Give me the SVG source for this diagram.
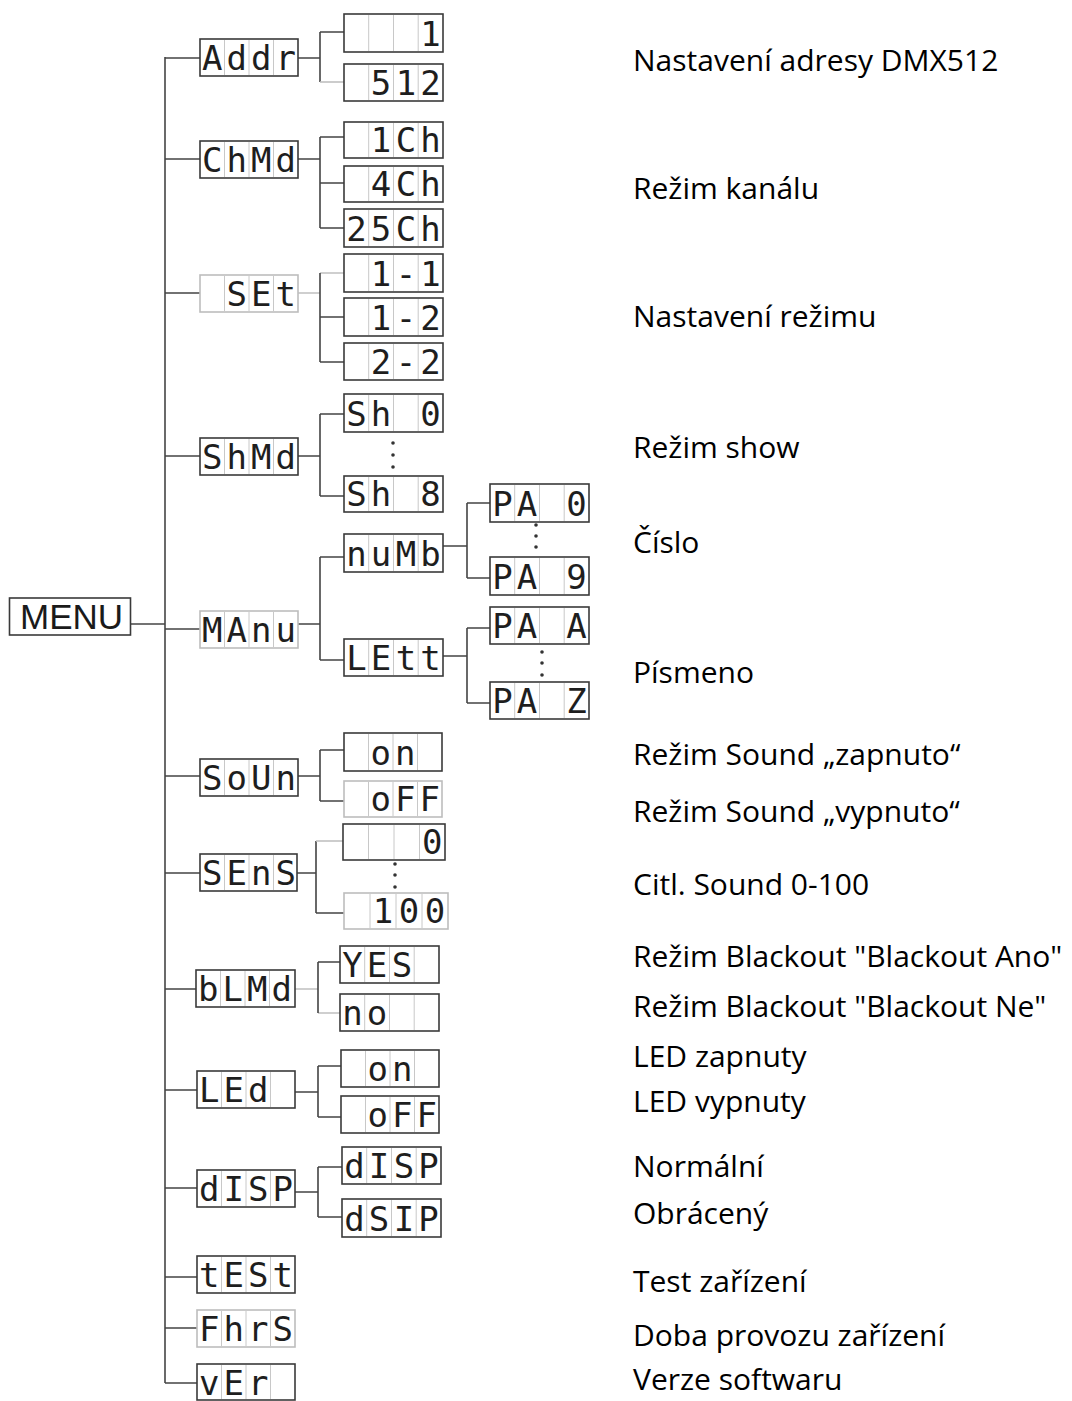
<svg xmlns="http://www.w3.org/2000/svg" width="1072" height="1401" viewBox="0 0 1072 1401">
<style>
.bg{fill:#fff}
.box{fill:#fff;stroke:#3a3a3a;stroke-width:1.6}
.box.faint{stroke:#bdbdbd}
.cell{stroke:#c8c8c8;stroke-width:1}
.seg{font-family:"DejaVu Sans Mono","Liberation Mono",monospace;font-size:34px;fill:#1e1e1e;text-anchor:middle}
.menu{font-family:"Liberation Sans",Arial,sans-serif;font-size:35px;fill:#1a1a1a}
.lbl{font-family:"Open Sans","Noto Sans",sans-serif;font-size:30px;fill:#000}
.con{fill:none;stroke:#444;stroke-width:1.6}
.con.faint{stroke:#c0c0c0}
.dot{fill:#333}
</style>
<rect class="bg" x="0" y="0" width="1072" height="1401"/>

<g id="connectors">
<path class="con" d="M165 57 V1383"/>
<path class="con" d="M131 624 H165"/>
<path class="con" d="M165 58 H200 M165 159 H200 M165 293 H200 M165 456 H200 M165 629 H200 M165 776 H200 M165 873 H200 M165 989 H196 M165 1090 H197 M165 1188 H197 M165 1277 H197 M165 1328 H197 M165 1383 H197"/>
<path class="con" d="M298 58 H320 M320 32 V82 M320 32 H344"/>
<path class="con faint" d="M320 82 H344"/>
<path class="con" d="M298 159 H320 M320 137 V228 M320 137 H344 M320 183 H344 M320 228 H344"/>
<path class="con faint" d="M298 293 H320 M320 273 H344"/>
<path class="con" d="M320 273 V362 M320 317 H344 M320 362 H344"/>
<path class="con" d="M298 456 H320 M320 414 V496 M320 414 H344 M320 496 H344"/>
<path class="con" d="M298 624 H320 M320 557 V660 M320 557 H344 M320 660 H344"/>
<path class="con" d="M443 546 H467 M467 503 V578 M467 503 H490 M467 578 H490"/>
<path class="con" d="M443 656 H467 M467 628 V703 M467 628 H490 M467 703 H490"/>
<path class="con" d="M298 776 H320 M320 750 V801 M320 750 H344 M320 801 H344"/>
<path class="con" d="M297 873 H316 M316 841 V913 M316 913 H344"/>
<path class="con faint" d="M316 841 H343"/>
<path class="con faint" d="M295 989 H318 M318 1013 H340"/>
<path class="con" d="M318 962 V1013 M318 962 H340"/>
<path class="con" d="M295 1092 H318 M318 1066 V1117 M318 1066 H341 M318 1117 H341"/>
<path class="con" d="M295 1192 H318 M318 1167 V1217 M318 1167 H342 M318 1217 H342"/>
</g>

<g id="dots">
<circle class="dot" cx="393" cy="443" r="1.8"/><circle class="dot" cx="393" cy="455" r="1.8"/><circle class="dot" cx="393" cy="467" r="1.8"/>
<circle class="dot" cx="536" cy="525" r="1.8"/><circle class="dot" cx="536" cy="536" r="1.8"/><circle class="dot" cx="536" cy="547" r="1.8"/>
<circle class="dot" cx="542" cy="652" r="1.8"/><circle class="dot" cx="542" cy="663" r="1.8"/><circle class="dot" cx="542" cy="675" r="1.8"/>
<circle class="dot" cx="395" cy="864" r="1.8"/><circle class="dot" cx="395" cy="875" r="1.8"/><circle class="dot" cx="395" cy="887" r="1.8"/>
</g>

<g id="menu"><rect class="box" x="9.5" y="598" width="121" height="37"/><text class="menu" x="20" y="629">MENU</text></g>

<!-- level 1 -->
<g id="addr"><rect class="box" x="200" y="39" width="98" height="37"/><path class="cell" d="M224.5 40V75M249 40V75M273.5 40V75"/><text class="seg" x="212.3 236.8 261.3 285.8" y="70">Addr</text></g>
<g id="chmd"><rect class="box" x="200" y="141" width="98" height="37"/><path class="cell" d="M224.5 142V177M249 142V177M273.5 142V177"/><text class="seg" x="212.3 236.8 261.3 285.8" y="172">ChMd</text></g>
<g id="set"><rect class="box faint" x="200" y="275" width="98" height="37"/><path class="cell" d="M224.5 276V311M249 276V311M273.5 276V311"/><text class="seg" x="236.8 261.3 285.8" y="306">SEt</text></g>
<g id="shmd"><rect class="box" x="200" y="438" width="98" height="37"/><path class="cell" d="M224.5 439V474M249 439V474M273.5 439V474"/><text class="seg" x="212.3 236.8 261.3 285.8" y="469">ShMd</text></g>
<g id="manu"><rect class="box faint" x="200" y="611" width="98" height="37"/><path class="cell" d="M224.5 612V647M249 612V647M273.5 612V647"/><text class="seg" x="212.3 236.8 261.3 285.8" y="642">MAnu</text></g>
<g id="soun"><rect class="box" x="200" y="759" width="98" height="37"/><path class="cell" d="M224.5 760V795M249 760V795M273.5 760V795"/><text class="seg" x="212.3 236.8 261.3 285.8" y="790">SoUn</text></g>
<g id="sens"><rect class="box" x="200" y="854" width="97" height="37"/><path class="cell" d="M224.5 855V890M249 855V890M273.5 855V890"/><text class="seg" x="212.3 236.8 261.3 285.8" y="885">SEnS</text></g>
<g id="blmd"><rect class="box" x="196" y="970" width="99" height="37"/><path class="cell" d="M220.5 971V1006M245 971V1006M269.5 971V1006"/><text class="seg" x="208.3 232.8 257.3 281.8" y="1001">bLMd</text></g>
<g id="led"><rect class="box" x="197" y="1071" width="98" height="37"/><path class="cell" d="M221.5 1072V1107M246 1072V1107M270.5 1072V1107"/><text class="seg" x="209.3 233.8 258.3" y="1102">LEd</text></g>
<g id="disp"><rect class="box" x="197" y="1170" width="98" height="37"/><path class="cell" d="M221.5 1171V1206M246 1171V1206M270.5 1171V1206"/><text class="seg" x="209.3 233.8 258.3 282.8" y="1201">dISP</text></g>
<g id="test"><rect class="box" x="197" y="1256" width="98" height="37"/><path class="cell" d="M221.5 1257V1292M246 1257V1292M270.5 1257V1292"/><text class="seg" x="209.3 233.8 258.3 282.8" y="1287">tESt</text></g>
<g id="fhrs"><rect class="box faint" x="197" y="1310" width="98" height="37"/><path class="cell" d="M221.5 1311V1346M246 1311V1346M270.5 1311V1346"/><text class="seg" x="209.3 233.8 258.3 282.8" y="1341">FhrS</text></g>
<g id="ver"><rect class="box" x="197" y="1364" width="98" height="36"/><path class="cell" d="M221.5 1365V1399M246 1365V1399M270.5 1365V1399"/><text class="seg" x="209.3 233.8 258.3" y="1395">vEr</text></g>

<!-- level 2 -->
<g id="addr-1"><rect class="box" x="344" y="14" width="99" height="38"/><path class="cell" d="M368.7 15V51M393.5 15V51M418.2 15V51"/><text class="seg" x="430.6" y="46">1</text></g>
<g id="addr-512"><rect class="box" x="344" y="64" width="99" height="37"/><path class="cell" d="M368.7 65V100M393.5 65V100M418.2 65V100"/><text class="seg" x="381.1 405.9 430.6" y="95">512</text></g>
<g id="ch-1"><rect class="box" x="344" y="122" width="99" height="36"/><path class="cell" d="M368.7 123V157M393.5 123V157M418.2 123V157"/><text class="seg" x="381.1 405.9 430.6" y="152">1Ch</text></g>
<g id="ch-4"><rect class="box" x="344" y="166" width="99" height="36"/><path class="cell" d="M368.7 167V201M393.5 167V201M418.2 167V201"/><text class="seg" x="381.1 405.9 430.6" y="196">4Ch</text></g>
<g id="ch-25"><rect class="box" x="344" y="209" width="99" height="38"/><path class="cell" d="M368.7 210V246M393.5 210V246M418.2 210V246"/><text class="seg" x="356.4 381.1 405.9 430.6" y="241">25Ch</text></g>
<g id="set-11"><rect class="box" x="344" y="254" width="99" height="38"/><path class="cell" d="M368.7 255V291M393.5 255V291M418.2 255V291"/><text class="seg" x="381.1 405.9 430.6" y="286">1-1</text></g>
<g id="set-12"><rect class="box" x="344" y="298" width="99" height="38"/><path class="cell" d="M368.7 299V335M393.5 299V335M418.2 299V335"/><text class="seg" x="381.1 405.9 430.6" y="330">1-2</text></g>
<g id="set-22"><rect class="box" x="344" y="343" width="99" height="37"/><path class="cell" d="M368.7 344V379M393.5 344V379M418.2 344V379"/><text class="seg" x="381.1 405.9 430.6" y="374">2-2</text></g>
<g id="sh-0"><rect class="box" x="344" y="394" width="99" height="38"/><path class="cell" d="M368.7 395V431M393.5 395V431M418.2 395V431"/><text class="seg" x="356.4 381.1 405.9 430.6" y="426">Sh 0</text></g>
<g id="sh-8"><rect class="box" x="344" y="476" width="99" height="36"/><path class="cell" d="M368.7 477V511M393.5 477V511M418.2 477V511"/><text class="seg" x="356.4 381.1 405.9 430.6" y="506">Sh 8</text></g>
<g id="numb"><rect class="box" x="344" y="534" width="99" height="38"/><path class="cell" d="M368.7 535V571M393.5 535V571M418.2 535V571"/><text class="seg" x="356.4 381.1 405.9 430.6" y="566">nuMb</text></g>
<g id="lett"><rect class="box" x="344" y="639" width="99" height="37"/><path class="cell" d="M368.7 640V675M393.5 640V675M418.2 640V675"/><text class="seg" x="356.4 381.1 405.9 430.6" y="670">LEtt</text></g>
<g id="soun-on"><rect class="box" x="344" y="733" width="98" height="38"/><path class="cell" d="M368.5 734V770M393 734V770M417.5 734V770"/><text class="seg" x="380.8 405.3" y="765">on</text></g>
<g id="soun-off"><rect class="box faint" x="344" y="781" width="98" height="36"/><path class="cell" d="M368.5 782V816M393 782V816M417.5 782V816"/><text class="seg" x="380.8 405.3 429.8" y="811">oFF</text></g>
<g id="sens-0"><rect class="box" x="343" y="824" width="102" height="36"/><path class="cell" d="M368.5 825V859M394 825V859M419.5 825V859"/><text class="seg" x="432.3" y="854">0</text></g>
<g id="sens-100"><rect class="box faint" x="344" y="893" width="104" height="36"/><path class="cell" d="M370 894V928M396 894V928M422 894V928"/><text class="seg" x="383 409 435" y="923">100</text></g>
<g id="bl-yes"><rect class="box" x="340" y="946" width="99" height="37"/><path class="cell" d="M364.7 947V982M389.5 947V982M414.2 947V982"/><text class="seg" x="352.4 377.1 401.9" y="977">YES</text></g>
<g id="bl-no"><rect class="box" x="340" y="994" width="99" height="37"/><path class="cell" d="M364.7 995V1030M389.5 995V1030M414.2 995V1030"/><text class="seg" x="352.4 377.1" y="1025">no</text></g>
<g id="led-on"><rect class="box" x="341" y="1050" width="98" height="37"/><path class="cell" d="M365.5 1051V1086M390 1051V1086M414.5 1051V1086"/><text class="seg" x="377.8 402.3" y="1081">on</text></g>
<g id="led-off"><rect class="box" x="341" y="1096" width="98" height="37"/><path class="cell" d="M365.5 1097V1132M390 1097V1132M414.5 1097V1132"/><text class="seg" x="377.8 402.3 426.8" y="1127">oFF</text></g>
<g id="disp-n"><rect class="box" x="342" y="1147" width="99" height="37"/><path class="cell" d="M366.7 1148V1183M391.5 1148V1183M416.2 1148V1183"/><text class="seg" x="354.4 379.1 403.9 428.6" y="1178">dISP</text></g>
<g id="disp-r"><rect class="box" x="342" y="1199" width="99" height="38"/><path class="cell" d="M366.7 1200V1236M391.5 1200V1236M416.2 1200V1236"/><text class="seg" x="354.4 379.1 403.9 428.6" y="1231">dSIP</text></g>

<!-- level 3 -->
<g id="pa-0"><rect class="box" x="490" y="484" width="99" height="38"/><path class="cell" d="M514.7 485V521M539.5 485V521M564.2 485V521"/><text class="seg" x="502.4 527.1 551.9 576.6" y="516">PA 0</text></g>
<g id="pa-9"><rect class="box" x="490" y="557" width="99" height="38"/><path class="cell" d="M514.7 558V594M539.5 558V594M564.2 558V594"/><text class="seg" x="502.4 527.1 551.9 576.6" y="589">PA 9</text></g>
<g id="pa-a"><rect class="box" x="490" y="607" width="99" height="37"/><path class="cell" d="M514.7 608V643M539.5 608V643M564.2 608V643"/><text class="seg" x="502.4 527.1 551.9 576.6" y="638">PA A</text></g>
<g id="pa-z"><rect class="box" x="490" y="682" width="99" height="37"/><path class="cell" d="M514.7 683V718M539.5 683V718M564.2 683V718"/><text class="seg" x="502.4 527.1 551.9 576.6" y="713">PA Z</text></g>

<g id="labels">
<text class="lbl" x="633" y="71">Nastavení adresy DMX512</text>
<text class="lbl" x="633" y="199">Režim kanálu</text>
<text class="lbl" x="633" y="327">Nastavení režimu</text>
<text class="lbl" x="633" y="458">Režim show</text>
<text class="lbl" x="633" y="553">Číslo</text>
<text class="lbl" x="633" y="683">Písmeno</text>
<text class="lbl" x="633" y="765">Režim Sound „zapnuto“</text>
<text class="lbl" x="633" y="822">Režim Sound „vypnuto“</text>
<text class="lbl" x="633" y="895">Citl. Sound 0-100</text>
<text class="lbl" x="633" y="967">Režim Blackout "Blackout Ano"</text>
<text class="lbl" x="633" y="1017">Režim Blackout "Blackout Ne"</text>
<text class="lbl" x="633" y="1067">LED zapnuty</text>
<text class="lbl" x="633" y="1112">LED vypnuty</text>
<text class="lbl" x="633" y="1177">Normální</text>
<text class="lbl" x="633" y="1224">Obrácený</text>
<text class="lbl" x="633" y="1292">Test zařízení</text>
<text class="lbl" x="633" y="1346">Doba provozu zařízení</text>
<text class="lbl" x="633" y="1390">Verze softwaru</text>
</g>
</svg>
